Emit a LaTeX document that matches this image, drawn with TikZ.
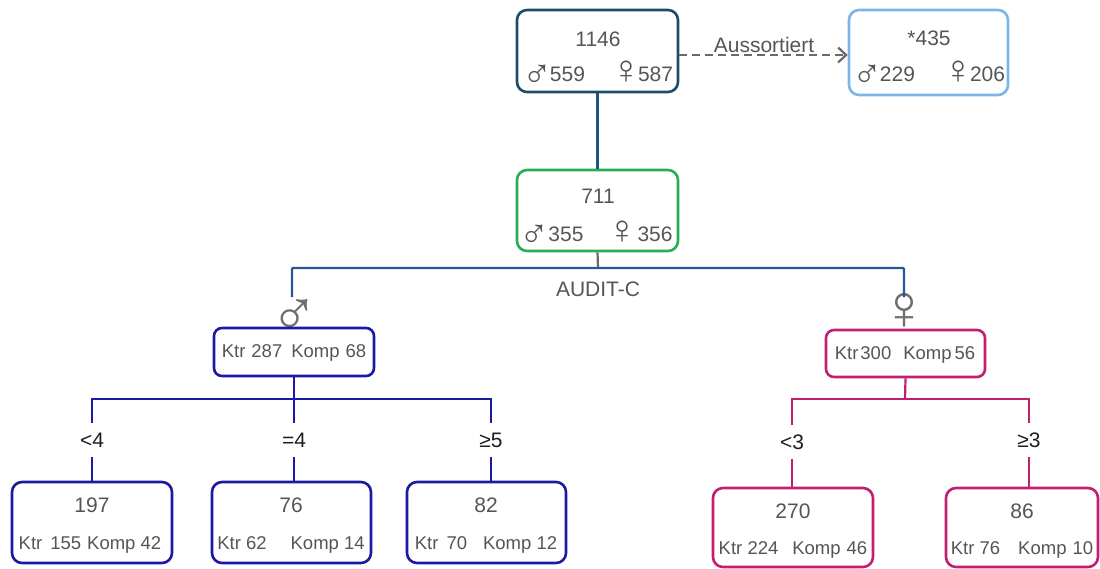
\documentclass[tikz,border=0pt]{standalone}
\usepackage{fontspec}
\setmainfont{Liberation Sans}
\usetikzlibrary{arrows.meta}
\definecolor{tealbox}{RGB}{28,78,108}
\definecolor{tealline}{RGB}{32,84,128}
\definecolor{lightblue}{RGB}{122,182,232}
\definecolor{greenbox}{RGB}{40,172,84}
\definecolor{grayline}{RGB}{105,105,105}
\definecolor{auditline}{RGB}{36,88,150}
\definecolor{maleblue}{RGB}{26,26,164}
\definecolor{femmag}{RGB}{192,32,112}
\definecolor{txtgray}{RGB}{85,85,85}
\definecolor{symgray}{RGB}{110,110,110}
\definecolor{lbltxt}{RGB}{30,30,30}
\newcommand{\msym}{\raisebox{-6pt}{\fontsize{40}{40}\selectfont ♂}\hspace{-3pt}}
\newcommand{\fsym}{\raisebox{-2.5pt}{\fontsize{40}{40}\selectfont ♀}\hspace{-3pt}}
\begin{document}
\begin{tikzpicture}[x=1pt,y=-1pt,
  boxbase/.style={draw, rounded corners=10pt, line width=2.6pt, inner sep=0pt},
  bigbox/.style={boxbase, minimum width=#1, minimum height=81pt},
  smallbox/.style={boxbase, rounded corners=8pt, minimum width=#1, minimum height=48pt},
  numtxt/.style={text=txtgray, font=\fontsize{21}{24}\selectfont, inner sep=0pt},
  ktrtxt/.style={text=txtgray, font=\fontsize{18.5}{20}\selectfont, inner sep=0pt},
  brlabel/.style={text=lbltxt, font=\fontsize{21}{24}\selectfont, inner xsep=0pt, inner ysep=0pt, minimum height=33pt, text height=15pt, text depth=0pt},
  sexsym/.style={text=symgray, font=\fontsize{64}{64}\selectfont, inner sep=0pt},
  conn/.style={line width=2.2pt},
]
\useasboundingbox (0,0) rectangle (1100,568);

% top level
\node[bigbox=161pt, minimum height=82pt, draw=tealbox] (T) at (597.5,51) {};
\node[numtxt] (Tn) at (598,39) {1146};
\node[numtxt, anchor=base] (Ts) at (598,81) {\msym559\hspace{26pt}\fsym587};

\node[bigbox=159pt, minimum height=85pt, draw=lightblue] (R) at (928.5,52.5) {};
\node[numtxt] (Rn) at (929,38) {*435};
\node[numtxt, anchor=base] (Rs) at (929,81) {\msym229\hspace{28pt}\fsym206};

\coordinate (ta) at (678,55);
\draw[conn, grayline, dash pattern=on 8pt off 5pt, -{Straight Barb[length=8pt,width=15pt]}] (T.east |- ta) -- (R.west |- ta);
\node[numtxt, anchor=south] (aus) at (764,53) {Aussortiert};

\node[bigbox=161pt, draw=greenbox] (G) at (597.5,210.5) {};
\node[numtxt] (Gn) at (598,196) {711};
\node[numtxt, anchor=base] (Gs) at (596,241) {\msym\hspace{2pt}355\hspace{24pt}\fsym\hspace{3pt}356};

\draw[conn, tealline] (T.south) -- (G.north);

\coordinate (audit) at (598,268);
\draw[conn, grayline] (G.south) -- (audit);
\node[numtxt] (auditlbl) at (598,289) {AUDIT-C};

\node[sexsym, anchor=base] (msym) at (294,335) {♂};
\node[sexsym, anchor=base] (fsym) at (904,329) {♀};
\coordinate (mtop) at (292,297);
\coordinate (ftop) at (904,297);
\draw[conn, auditline, rounded corners=1pt] (mtop) |- (audit) -| (ftop);

% male subtree
\node[smallbox=160pt, draw=maleblue] (M) at (294,352) {};
\node[ktrtxt] (Mt) at (294,353) {Ktr\hspace{6pt}287\hspace{9pt}Komp\hspace{6pt}68};
\coordinate (mj) at (294,399);
\node[brlabel] (l1) at (92,440) {<4};
\node[brlabel] (l2) at (294,440) {=4};
\node[brlabel] (l3) at (491,440) {≥5};
\draw[conn, maleblue] (M.south) -- (mj);
\draw[conn, maleblue] (l1.north) |- (mj) -| (l3.north);
\draw[conn, maleblue] (mj) -- (l2.north);

\node[bigbox=160pt, draw=maleblue] (B1) at (92,522.5) {};
\node[numtxt] (B1n) at (92,505) {197};
\node[ktrtxt] (B1s) at (90,545) {Ktr\hspace{8pt}155\hspace{6pt}Komp 42};
\node[bigbox=159pt, draw=maleblue] (B2) at (291.5,522.5) {};
\node[numtxt] (B2n) at (291,505) {76};
\node[ktrtxt] (B2s) at (291,545) {Ktr 62\hspace{24pt}Komp 14};
\node[bigbox=159pt, draw=maleblue] (B3) at (486.5,522.5) {};
\node[numtxt] (B3n) at (486,505) {82};
\node[ktrtxt] (B3s) at (486,545) {Ktr\hspace{8pt}70\hspace{16pt}Komp 12};
\draw[conn, maleblue] (l1.south) -- (B1.north);
\draw[conn, maleblue] (l2.south) -- (B2.north -| l2.south);
\draw[conn, maleblue] (l3.south) -- (B3.north -| l3.south);

% female subtree
\node[smallbox=159pt, minimum height=47pt, draw=femmag] (F) at (905.5,353.5) {};
\node[ktrtxt] (Ft) at (905,355) {Ktr\hspace{2pt}300\hspace{12pt}Komp\hspace{3pt}56};
\coordinate (fj) at (905,399);
\node[brlabel] (l4) at (792,442) {<3};
\node[brlabel] (l5) at (1029,440) {≥3};
\draw[conn, femmag] (F.south) -- (fj);
\draw[conn, femmag] (l4.north) |- (fj) -| (l5.north);

\node[bigbox=160pt, minimum height=79pt, draw=femmag] (B4) at (793,527.5) {};
\node[numtxt] (B4n) at (793,511) {270};
\node[ktrtxt] (B4s) at (793,550) {Ktr 224\hspace{14pt}Komp\hspace{6pt}46};
\node[bigbox=152pt, minimum height=79pt, draw=femmag] (B5) at (1022,527.5) {};
\node[numtxt] (B5n) at (1022,511) {86};
\node[ktrtxt] (B5s) at (1022,550) {Ktr 76\hspace{18pt}Komp\hspace{6pt}10};
\draw[conn, femmag] (l4.south) -- (B4.north -| l4.south);
\draw[conn, femmag] (l5.south) -- (B5.north -| l5.south);
\end{tikzpicture}
\end{document}
